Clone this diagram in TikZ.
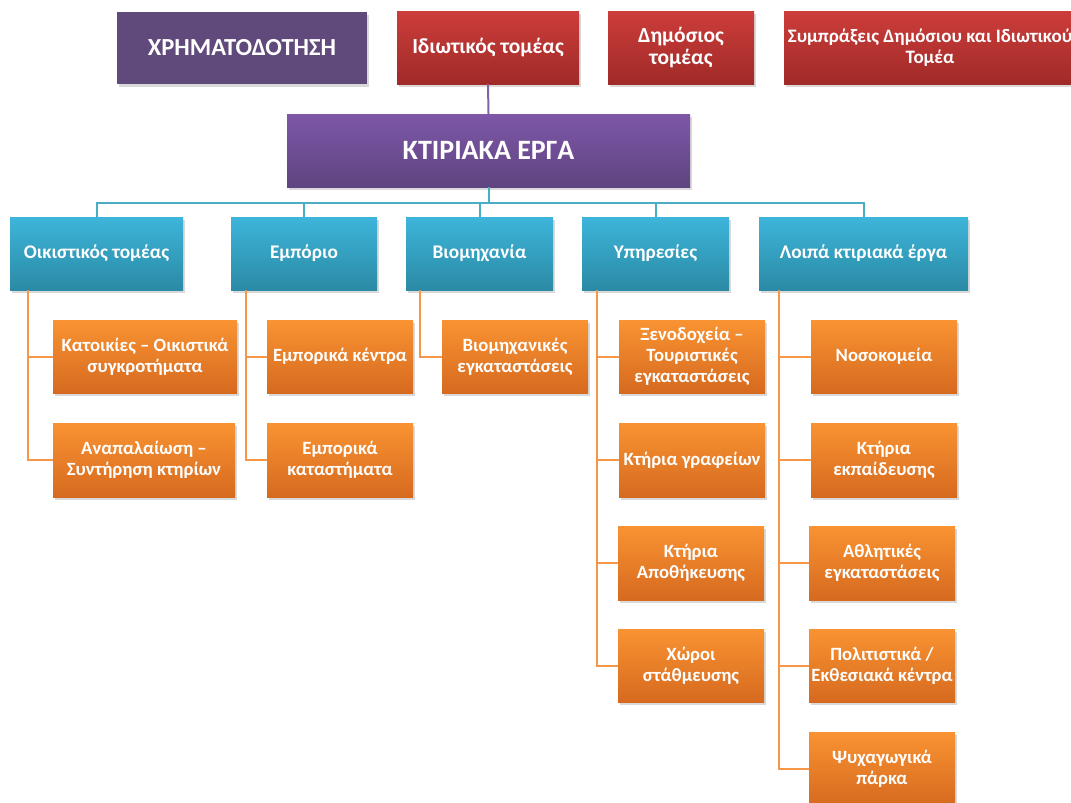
\documentclass[tikz,border=0pt]{standalone}
\usepackage{fontspec}
\setmainfont{Carlito}
\usetikzlibrary{shadows}
\definecolor{chrcol}{HTML}{604A7B}
\definecolor{kttop}{HTML}{7E57A8}
\definecolor{ktbot}{HTML}{5E4480}
\definecolor{redtop}{HTML}{CC3D3A}
\definecolor{redbot}{HTML}{A02A28}
\definecolor{bluetop}{HTML}{3DB5DA}
\definecolor{bluebot}{HTML}{2B8AA5}
\definecolor{orgtop}{HTML}{F99332}
\definecolor{orgbot}{HTML}{D66A1F}
\definecolor{purpline}{HTML}{8064A2}
\definecolor{blueline}{HTML}{4BACC6}
\definecolor{orgline}{HTML}{F79646}
\tikzset{
  box/.style={draw=none, inner sep=1pt, align=center, text=white,
    drop shadow={opacity=0.3, shadow xshift=2pt, shadow yshift=-3pt}},
  chrbox/.style={box, fill=chrcol, font=\bfseries\fontsize{24.5}{28}\selectfont},
  ktbox/.style={box, top color=kttop, bottom color=ktbot, font=\bfseries\fontsize{28}{32}\selectfont},
  redbox/.style={box, top color=redtop, bottom color=redbot, minimum height=73pt, font=\bfseries\fontsize{21.5}{22}\selectfont},
  bluebox/.style={box, top color=bluetop, bottom color=bluebot, minimum height=73pt, font=\bfseries\fontsize{19.3}{22}\selectfont},
  orgbox/.style={box, top color=orgtop, bottom color=orgbot, minimum height=73pt, font=\bfseries\fontsize{18.7}{21}\selectfont},
  pline/.style={draw=purpline, line width=2pt},
  bline/.style={draw=blueline, line width=2pt},
  oline/.style={draw=orgline, line width=2pt},
}
\begin{document}
\begin{tikzpicture}[x=1pt,y=-1pt]
\useasboundingbox (0,0) rectangle (1071,803);
\clip (0,0) rectangle (1071,803);
% top row
\node[chrbox, minimum width=250pt, minimum height=72pt] (chr) at (242,48) {ΧΡΗΜΑΤΟΔΟΤΗΣΗ};
\node[redbox, minimum width=182pt] (idio) at (488,47.5) {Ιδιωτικός τομέας};
\node[redbox, minimum width=146pt] (dim) at (681,47.5) {Δημόσιος\\τομέας};
\node[redbox, minimum width=322pt] (symp) at (945,47.5) {};
\node[align=center, text=white, inner sep=0pt, font=\bfseries\fontsize{19}{21}\selectfont] (symptxt) at (930,47.5) {Συμπράξεις Δημόσιου και Ιδιωτικού\\Τομέα};
\node[ktbox, minimum width=403pt, minimum height=73pt] (ktir) at (488.5,150.5) {ΚΤΙΡΙΑΚΑ ΕΡΓΑ};
% blue row
\node[bluebox, minimum width=173pt] (oik) at (96.5,253.5) {Οικιστικός τομέας};
\node[bluebox, minimum width=146pt] (emp) at (304,253.5) {Εμπόριο};
\node[bluebox, minimum width=147pt] (biom) at (479.5,253.5) {Βιομηχανία};
\node[bluebox, minimum width=147pt] (yp) at (655.5,253.5) {Υπηρεσίες};
\node[bluebox, minimum width=209pt] (loipa) at (863.5,253.5) {Λοιπά κτιριακά έργα};
% orange
\node[orgbox, minimum width=184pt] (kat) at (145,356.5) {Κατοικίες – Οικιστικά\\συγκροτήματα};
\node[orgbox, minimum width=182pt, minimum height=74pt] (anap) at (144,460) {Αναπαλαίωση –\\Συντήρηση κτηρίων};
\node[orgbox, minimum width=146pt] (empk) at (340,356.5) {Εμπορικά κέντρα};
\node[orgbox, minimum width=146pt, minimum height=74pt] (empkat) at (340,460) {Εμπορικά\\καταστήματα};
\node[orgbox, minimum width=146pt] (biomeg) at (515,356.5) {Βιομηχανικές\\εγκαταστάσεις};
\node[orgbox, minimum width=146pt] (xen) at (692,356.5) {Ξενοδοχεία –\\Τουριστικές\\εγκαταστάσεις};
\node[orgbox, minimum width=146pt, minimum height=74pt] (ktgr) at (692,460) {Κτήρια γραφείων};
\node[orgbox, minimum width=146pt, minimum height=74pt] (ktap) at (691,563) {Κτήρια\\Αποθήκευσης};
\node[orgbox, minimum width=146pt] (xwr) at (691,665.5) {Χώροι\\στάθμευσης};
\node[orgbox, minimum width=146pt] (nos) at (884,356.5) {Νοσοκομεία};
\node[orgbox, minimum width=146pt, minimum height=74pt] (ktek) at (884,460) {Κτήρια\\εκπαίδευσης};
\node[orgbox, minimum width=146pt, minimum height=74pt] (athl) at (882,563) {Αθλητικές\\εγκαταστάσεις};
\node[orgbox, minimum width=146pt] (pol) at (882,665.5) {Πολιτιστικά /\\Εκθεσιακά κέντρα};
\node[orgbox, minimum width=146pt] (psy) at (882,768.5) {Ψυχαγωγικά\\πάρκα};
% connectors
\draw[pline] (idio.south) -- (ktir.north);
\coordinate (bus) at (488.5,203);
\draw[bline] (ktir.south) -- (bus);
\foreach \n in {oik,emp,biom,yp,loipa} \draw[bline] (bus) -| (\n.north);
\coordinate (oiks) at (28,290);
\coordinate (emps) at (246,290);
\coordinate (bioms) at (420,290);
\coordinate (yps) at (597,290);
\coordinate (loips) at (779,290);
\foreach \n in {kat,anap} \draw[oline] (oiks) |- (\n.west);
\foreach \n in {empk,empkat} \draw[oline] (emps) |- (\n.west);
\draw[oline] (bioms) |- (biomeg.west);
\foreach \n in {xen,ktgr,ktap,xwr} \draw[oline] (yps) |- (\n.west);
\foreach \n in {nos,ktek,athl,pol,psy} \draw[oline] (loips) |- (\n.west);
\end{tikzpicture}
\end{document}
